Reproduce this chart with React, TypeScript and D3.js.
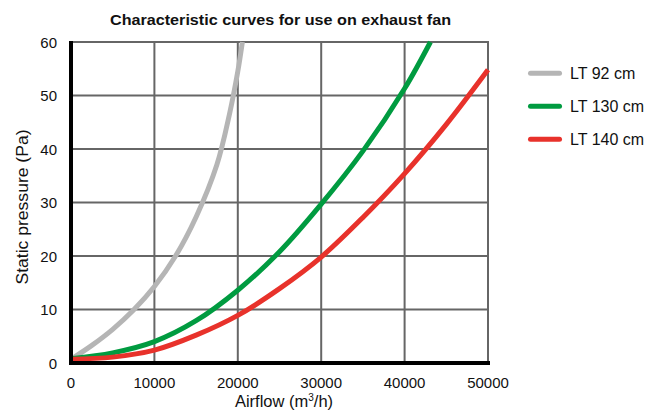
import * as d3 from "d3";

const W = 649;
const H = 416;
const left = 71;
const right = 488;
const top = 42;
const bottom = 363;

const xTicks = [0, 10000, 20000, 30000, 40000, 50000];
const yTicks = [0, 10, 20, 30, 40, 50, 60];

// airflow (m3/h) and static pressure (Pa)
const lt92Flow = [0, 2500, 5000, 7500, 10000, 12500, 15000, 17500, 19000, 20000, 20550];
const lt92Pressure = [0.7, 3.3, 6.3, 9.9, 14.3, 19.9, 27.3, 37.1, 46.5, 54.5, 60];

const lt130Flow = [0, 5000, 10000, 15000, 20000, 25000, 30000, 35000, 40000, 43100];
const lt130Pressure = [0.8, 1.9, 4.0, 7.9, 13.6, 20.8, 29.7, 39.6, 51.3, 60];

const lt140Flow = [0, 5000, 10000, 15000, 20000, 25000, 30000, 35000, 40000, 45000, 50000];
const lt140Pressure = [0.7, 1.1, 2.4, 5.2, 8.9, 13.9, 19.8, 27.2, 35.4, 44.6, 54.8];

const series = [
  { name: "LT 92 cm", color: "#b5b5b5", flow: lt92Flow, pressure: lt92Pressure },
  { name: "LT 130 cm", color: "#009b40", flow: lt130Flow, pressure: lt130Pressure },
  { name: "LT 140 cm", color: "#e8322b", flow: lt140Flow, pressure: lt140Pressure },
];

const font = "'Liberation Sans', Arial, sans-serif";

export default function App() {
  const x = d3.scaleLinear().domain([0, 50000]).range([left, right]);
  const y = d3.scaleLinear().domain([0, 60]).range([bottom, top]);

  const line = d3
    .line<[number, number]>()
    .x((d) => x(d[0]))
    .y((d) => y(d[1]))
    .curve(d3.curveCatmullRom.alpha(0.5));

  return (
    <svg
      width={W}
      height={H}
      style={{ position: "absolute", left: 0, top: 0, background: "#fff" }}
      fontFamily={font}
    >
      <text
        x={280.5}
        y={25}
        textAnchor="middle"
        fontSize={15.5}
        fontWeight={600}
        fill="#111"
        textLength={341}
        lengthAdjust="spacingAndGlyphs"
      >
        Characteristic curves for use on exhaust fan
      </text>

      {/* grid */}
      {xTicks.slice(1).map((t) => (
        <line key={"gx" + t} x1={x(t)} x2={x(t)} y1={top - 1} y2={bottom} stroke="#666" strokeWidth={2} />
      ))}
      {yTicks.slice(1).map((t) => (
        <line key={"gy" + t} x1={left} x2={right + 1} y1={y(t)} y2={y(t)} stroke="#666" strokeWidth={2} />
      ))}

      {/* curves */}
      {series.map((s) => (
        <path
          key={s.name}
          d={line(s.flow.map((f, i) => [f, s.pressure[i]] as [number, number])) ?? ""}
          fill="none"
          stroke={s.color}
          strokeWidth={5}
        />
      ))}

      {/* axes */}
      <line x1={left} x2={left} y1={top - 1} y2={bottom + 2} stroke="#000" strokeWidth={4} />
      <line x1={left - 2} x2={right + 2} y1={bottom} y2={bottom} stroke="#000" strokeWidth={4} />

      {yTicks.map((t) => (
        <text key={"ty" + t} x={57} y={y(t) + 5.5} textAnchor="end" fontSize={15} fill="#111">
          {t}
        </text>
      ))}
      {xTicks.map((t) => (
        <text key={"tx" + t} x={x(t)} y={388} textAnchor="middle" fontSize={15} fill="#111">
          {t}
        </text>
      ))}

      <text x={284} y={407} textAnchor="middle" fontSize={16.5} fill="#111">
        Airflow (m<tspan fontSize={10} dy={-6}>3</tspan>
        <tspan dy={6}>/h)</tspan>
      </text>
      <text
        transform={`translate(28, 207) rotate(-90)`}
        textAnchor="middle"
        fontSize={16}
        fill="#111"
        textLength={155}
        lengthAdjust="spacingAndGlyphs"
      >
        Static pressure (Pa)
      </text>

      {/* legend */}
      {series.map((s, i) => (
        <g key={"lg" + s.name} transform={`translate(528, ${73.3 + i * 33})`}>
          <line x1={2.5} x2={31.5} y1={0} y2={0} stroke={s.color} strokeWidth={5} strokeLinecap="round" />
          <text x={42} y={6} fontSize={16} fill="#111">
            {s.name}
          </text>
        </g>
      ))}
    </svg>
  );
}
